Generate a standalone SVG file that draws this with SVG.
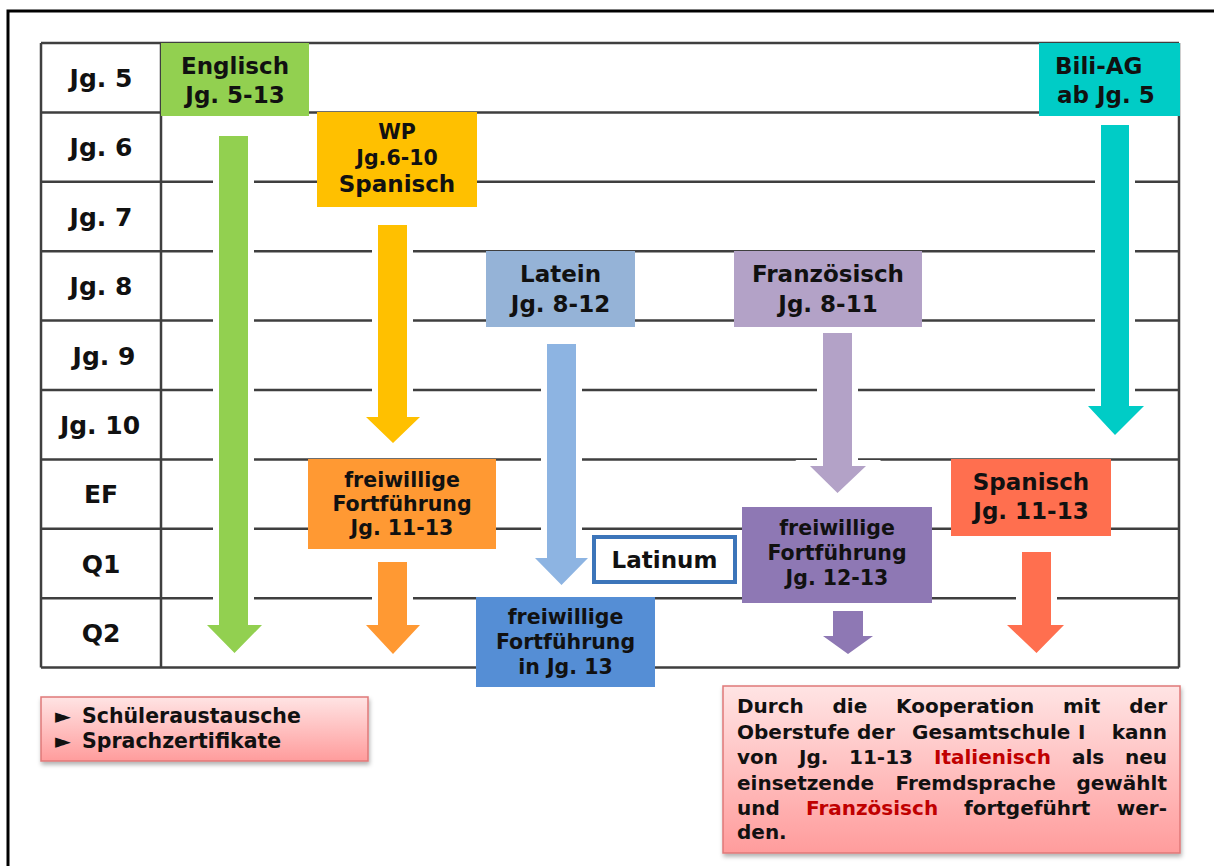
<svg xmlns="http://www.w3.org/2000/svg" width="1214" height="866" viewBox="0 0 1214 866">
<defs>
<linearGradient id="pink" x1="0" y1="0" x2="0" y2="1">
<stop offset="0" stop-color="#FFE4E4"/>
<stop offset="1" stop-color="#FF9C9C"/>
</linearGradient>
<filter id="sh" x="-5%" y="-5%" width="110%" height="120%">
<feDropShadow dx="1" dy="3" stdDeviation="2" flood-color="#000" flood-opacity="0.3"/>
</filter>
</defs>
<style>
text{font-family:"DejaVu Sans","Verdana",sans-serif;font-weight:bold;fill:#111;}
.row{font-size:25px;text-anchor:middle;}
.big{font-size:23px;text-anchor:middle;}
.mid{font-size:20.5px;text-anchor:middle;}
.leg{font-size:20px;}
.leg2{font-size:20.5px;}
.red{fill:#C00000;}
.end{text-anchor:end;}
.grid{stroke:#3F3F3F;stroke-width:2.5;fill:none;}
.arr{stroke:#fff;stroke-width:12;stroke-linejoin:miter;paint-order:stroke;}
</style>
<rect width="1214" height="866" fill="#fff"/>
<rect x="8" y="11" width="1230" height="880" fill="none" stroke="#000" stroke-width="3"/>

<g id="table">
<path class="grid" d="M41 43H1179M41 112.4H1179M41 181.8H1179M41 251.2H1179M41 320.6H1179M41 390H1179M41 459.4H1179M41 528.8H1179M41 598.2H1179M41 667.6H1179M41 43V667.6M161 43V667.6M1179 43V667.6"/>
<text class="row" x="101" y="86.5">Jg. 5</text>
<text class="row" x="101" y="156">Jg. 6</text>
<text class="row" x="101" y="225.5">Jg. 7</text>
<text class="row" x="101" y="295">Jg. 8</text>
<text class="row" x="104" y="364.5">Jg. 9</text>
<text class="row" x="100" y="433.5">Jg. 10</text>
<text class="row" x="101" y="503">EF</text>
<text class="row" x="101" y="572.5">Q1</text>
<text class="row" x="101" y="642">Q2</text>
</g>

<g id="connectors">
<polygon class="arr" fill="#92D050" points="219,136 248,136 248,625 262,625 234.5,653 207,625 219,625"/>
<polygon class="arr" fill="#FFC000" points="378,225 407,225 407,417 420,417 393,443 366,417 378,417"/>
<polygon class="arr" fill="#FF9933" points="378,562 407,562 407,625 420,625 393,654 366,625 378,625"/>
<polygon class="arr" fill="#8DB4E2" points="547,344 576,344 576,558 588,558 561.5,585 535,558 547,558"/>
<polygon class="arr" fill="#B3A2C7" points="823,333 852,333 852,466 866,466 837.5,493 810,466 823,466"/>
<polygon class="arr" fill="#8E78B4" points="833,611 863,611 863,636 873,636 848,654 823,636 833,636"/>
<polygon class="arr" fill="#00CCC6" points="1101,125 1129,125 1129,406 1144,406 1115,435 1088,406 1101,406"/>
<polygon class="arr" fill="#FF6F4F" points="1022,552 1051,552 1051,625 1064,625 1036.5,653 1007,625 1022,625"/>
</g>

<g id="englisch">
<rect x="161" y="43" width="148" height="73" fill="#92D050"/>
<text class="big" x="235" y="74">Englisch</text>
<text class="big" x="235" y="103">Jg. 5-13</text>
</g>

<g id="bili">
<rect x="1039" y="43" width="141" height="73" fill="#00CCC6"/>
<text class="big" x="1055" y="74" style="text-anchor:start">Bili-AG</text>
<text class="big" x="1057" y="103" style="text-anchor:start">ab Jg. 5</text>
</g>

<g id="wp">
<rect x="317" y="112" width="160" height="95" fill="#FFC000"/>
<text class="mid" x="397" y="139">WP</text>
<text class="mid" x="397" y="165">Jg.6-10</text>
<text class="big" x="397" y="192">Spanisch</text>
</g>

<g id="latein">
<rect x="486" y="251" width="149" height="76" fill="#95B3D7"/>
<text class="big" x="560.5" y="282">Latein</text>
<text class="big" x="560.5" y="312">Jg. 8-12</text>
</g>

<g id="franz">
<rect x="734" y="251" width="188" height="76" fill="#B3A2C7"/>
<text class="big" x="828" y="282">Französisch</text>
<text class="big" x="828" y="312">Jg. 8-11</text>
</g>

<g id="fort-orange">
<rect x="308" y="459" width="188" height="90" fill="#FF9933"/>
<text class="mid" x="402" y="487">freiwillige</text>
<text class="mid" x="402" y="511">Fortführung</text>
<text class="mid" x="402" y="535">Jg. 11-13</text>
</g>

<g id="spanisch">
<rect x="951" y="459" width="160" height="77" fill="#FF6F4F"/>
<text class="big" x="1031" y="490">Spanisch</text>
<text class="big" x="1031" y="519">Jg. 11-13</text>
</g>

<g id="fort-purple">
<rect x="742" y="507" width="190" height="96" fill="#8E78B4"/>
<text class="mid" x="837" y="535">freiwillige</text>
<text class="mid" x="837" y="560">Fortführung</text>
<text class="mid" x="837" y="585">Jg. 12-13</text>
</g>

<g id="latinum">
<rect x="594" y="537" width="141" height="45" fill="#fff" stroke="#3C75BA" stroke-width="4"/>
<text class="big" x="664.5" y="568">Latinum</text>
</g>

<g id="fort-blue">
<rect x="476" y="597" width="179" height="90" fill="#558ED5"/>
<text class="mid" x="565.5" y="624">freiwillige</text>
<text class="mid" x="565.5" y="649">Fortführung</text>
<text class="mid" x="565.5" y="674">in Jg. 13</text>
</g>

<g id="legend-left">
<rect x="41" y="697" width="327" height="64" fill="url(#pink)" stroke="#E07878" stroke-width="1.5" filter="url(#sh)"/>
<text class="leg2" y="723"><tspan x="55">►</tspan><tspan x="82">Schüleraustausche</tspan></text>
<text class="leg2" y="748"><tspan x="55">►</tspan><tspan x="82">Sprachzertifikate</tspan></text>
</g>

<g id="legend-right">
<rect x="723" y="686" width="457" height="167" fill="url(#pink)" stroke="#E07878" stroke-width="1.5" filter="url(#sh)"/>
<text class="leg" y="713"><tspan x="737">Durch</tspan><tspan x="832.5">die</tspan><tspan x="896">Kooperation</tspan><tspan x="1063">mit</tspan><tspan x="1167" class="end">der</tspan></text>
<text class="leg" y="739"><tspan x="737">Oberstufe</tspan><tspan x="857">der</tspan><tspan x="912">Gesamtschule</tspan><tspan x="1078">I</tspan><tspan x="1167" class="end">kann</tspan></text>
<text class="leg" y="764"><tspan x="737">von</tspan><tspan x="799">Jg.</tspan><tspan x="849">11-13</tspan><tspan x="934" class="red">Italienisch</tspan><tspan x="1072">als</tspan><tspan x="1167" class="end">neu</tspan></text>
<text class="leg" y="790"><tspan x="737">einsetzende</tspan><tspan x="895.5">Fremdsprache</tspan><tspan x="1167" class="end">gewählt</tspan></text>
<text class="leg" y="815"><tspan x="737">und</tspan><tspan x="806" class="red">Französisch</tspan><tspan x="964">fortgeführt</tspan><tspan x="1167" class="end">wer-</tspan></text>
<text class="leg" x="737" y="839">den.</text>
</g>
</svg>
